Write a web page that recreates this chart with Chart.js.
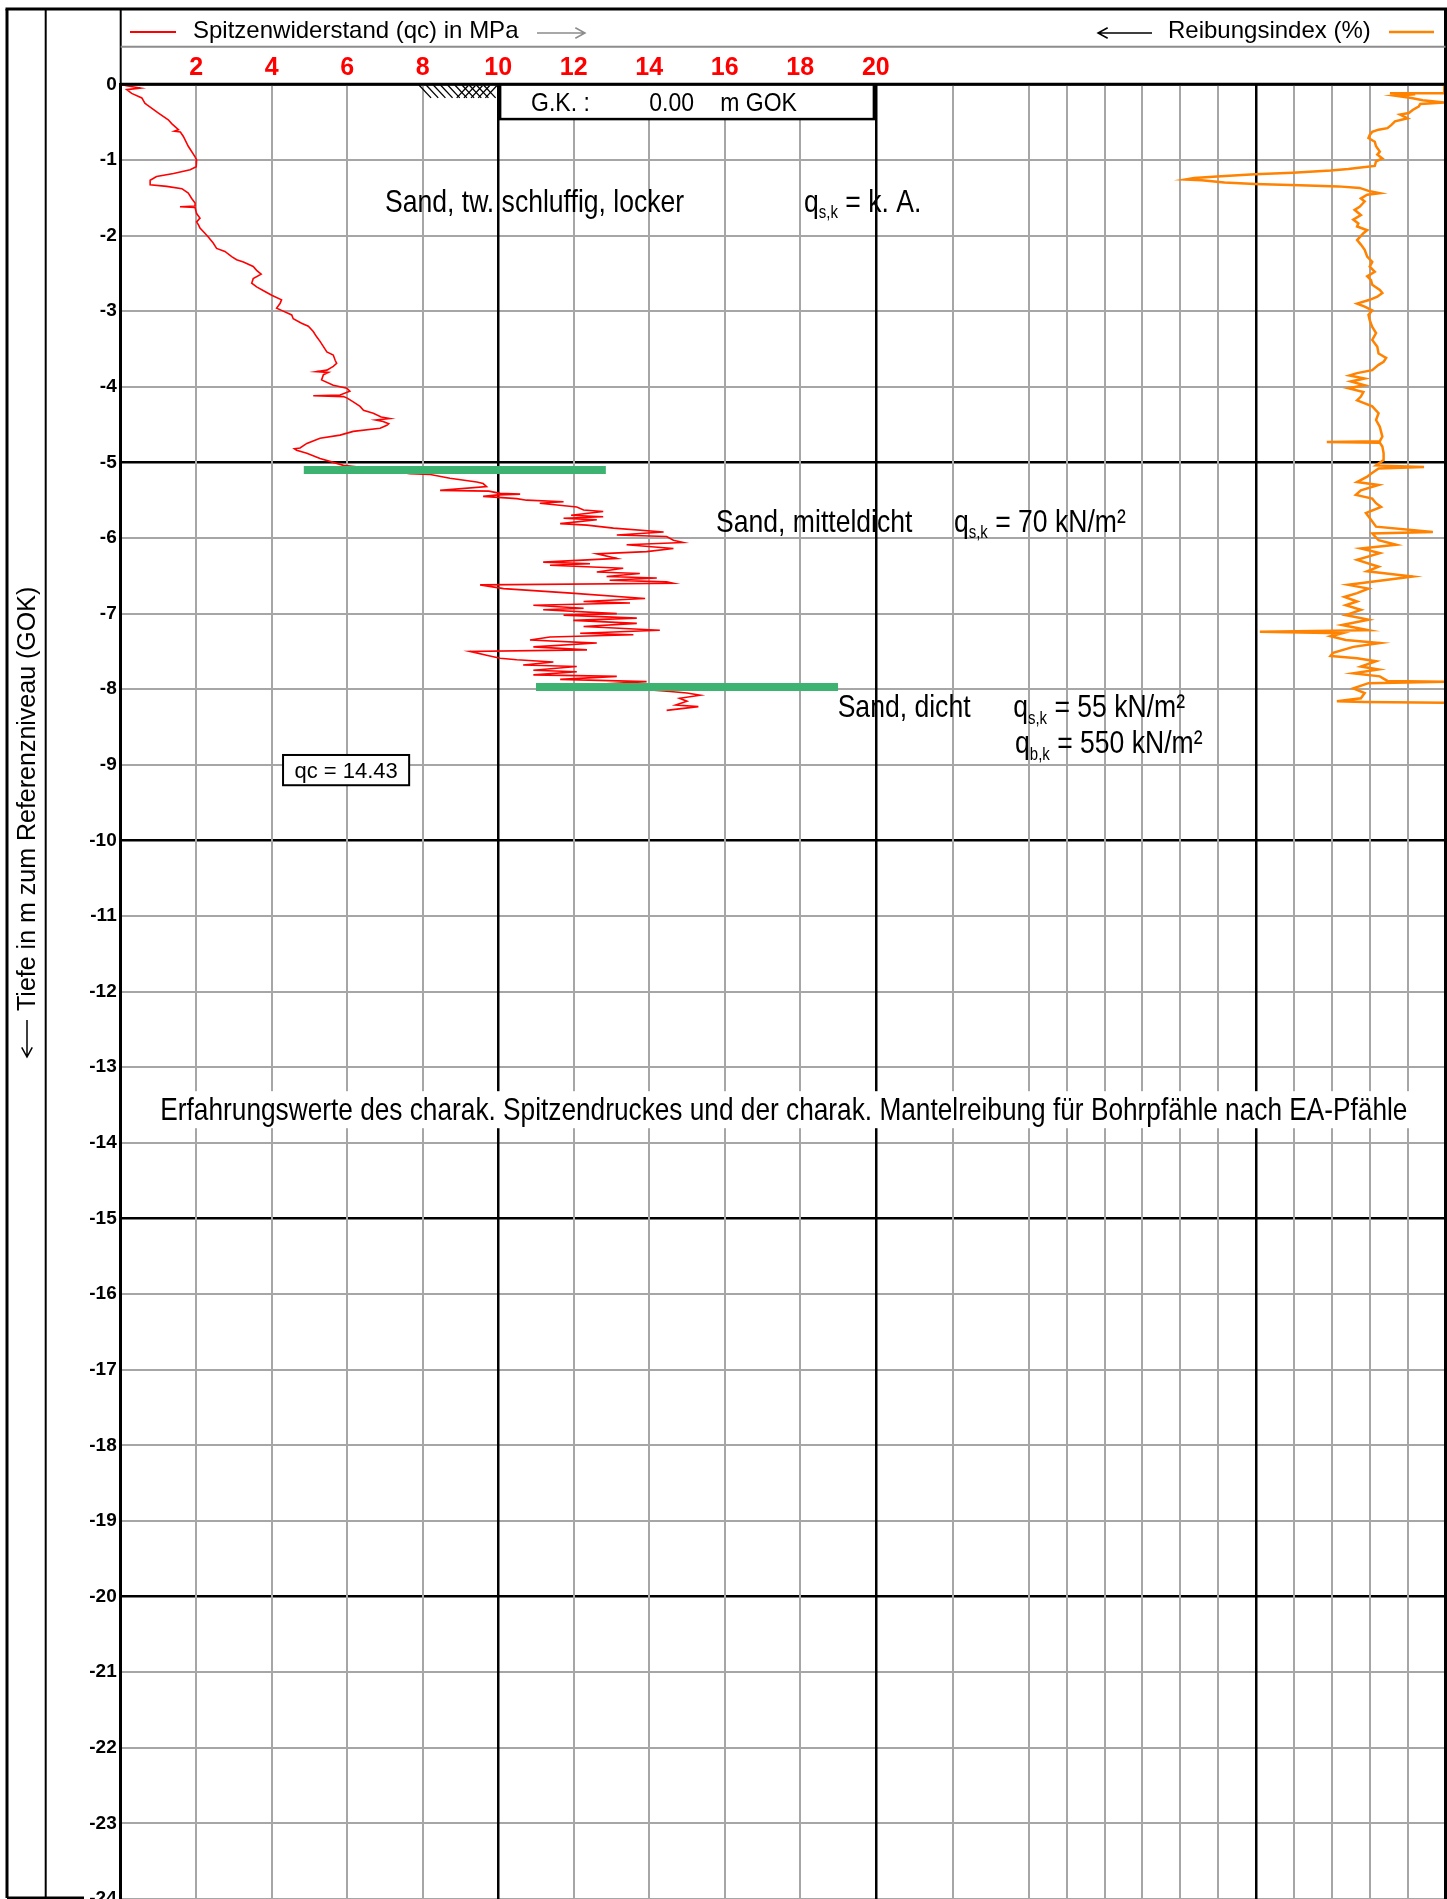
<!DOCTYPE html>
<html>
<head>
<meta charset="utf-8">
<title>Drucksondierung</title>
<script src="https://cdn.jsdelivr.net/npm/chart.js@4.4.1/dist/chart.umd.min.js"></script>
<style>
  html, body { margin: 0; padding: 0; background: #fff; }
  #wrap { width: 1447px; height: 1899px; position: relative; }
</style>
</head>
<body>
<div id="wrap"><canvas id="cpt"></canvas></div>
<script>
// --- data read off the sounding log ---
// cone resistance qc (MPa) against depth below GOK (m)
const qcDepth = [0.00,0.02,0.05,0.07,0.12,0.18,0.25,0.27,0.38,0.47,0.52,0.60,0.62,0.63,0.69,0.82,0.96,1.00,1.09,1.13,
  1.18,1.22,1.27,1.33,1.35,1.38,1.44,1.51,1.57,1.61,1.62,1.63,1.71,1.77,1.82,1.86,1.90,1.97,2.02,2.10,
  2.17,2.21,2.28,2.32,2.35,2.41,2.46,2.51,2.57,2.63,2.68,2.74,2.79,2.85,2.90,2.96,2.99,3.05,3.10,3.16,
  3.20,3.27,3.34,3.40,3.47,3.54,3.58,3.65,3.69,3.73,3.78,3.80,3.81,3.84,3.91,3.98,4.02,4.06,4.11,4.12,
  4.13,4.15,4.20,4.26,4.31,4.35,4.40,4.42,4.44,4.46,4.49,4.51,4.55,4.59,4.64,4.68,4.75,4.81,4.82,4.84,
  4.88,4.95,5.00,5.04,5.10,5.15,5.16,5.21,5.26,5.28,5.32,5.37,5.38,5.41,5.42,5.43,5.45,5.48,5.50,5.52,
  5.54,5.59,5.63,5.65,5.70,5.72,5.74,5.76,5.81,5.83,5.87,5.92,5.96,5.98,6.03,6.06,6.09,6.14,6.18,6.21,
  6.27,6.32,6.34,6.36,6.40,6.45,6.47,6.51,6.53,6.56,6.58,6.60,6.62,6.67,6.73,6.80,6.84,6.86,6.89,6.93,
  6.95,7.00,7.02,7.06,7.09,7.13,7.17,7.22,7.26,7.28,7.31,7.35,7.39,7.44,7.48,7.50,7.55,7.59,7.61,7.64,
  7.68,7.70,7.75,7.77,7.81,7.83,7.87,7.90,7.94,7.99,8.03,8.05,8.08,8.12,8.16,8.21,8.23,8.28];
const qcValue = [0.00,0.15,0.52,0.16,0.29,0.56,0.64,0.69,1.00,1.26,1.35,1.53,1.42,1.58,1.66,1.79,1.97,2.01,2.00,1.84,
  1.40,0.95,0.78,0.78,1.22,1.62,1.79,1.88,1.97,1.97,1.57,1.97,2.01,2.10,2.01,2.06,2.10,2.23,2.32,2.45,
  2.54,2.76,2.94,3.07,3.25,3.51,3.60,3.72,3.51,3.47,3.60,3.82,4.00,4.26,4.22,4.13,4.26,4.53,4.57,4.79,
  4.97,5.10,5.19,5.28,5.37,5.46,5.63,5.68,5.72,5.63,5.46,5.19,5.50,5.37,5.32,5.63,5.99,6.07,5.81,5.10,
  5.90,6.00,6.16,6.34,6.43,6.69,6.90,7.13,6.75,6.95,7.10,7.05,6.87,6.16,5.81,5.28,4.93,4.75,4.60,4.66,
  4.93,5.28,5.63,5.90,7.00,7.66,8.20,8.72,9.43,9.60,9.69,8.46,9.75,10.05,10.58,10.00,9.60,10.49,10.75,11.73,
  11.10,12.08,12.26,12.78,11.93,12.78,11.73,12.61,11.64,12.35,13.05,14.38,13.14,14.46,14.64,14.90,13.40,14.64,13.93,12.61,
  13.14,11.19,12.43,11.37,13.31,12.61,13.75,12.87,14.20,12.95,14.46,14.64,9.52,10.14,11.93,13.89,12.26,13.49,10.93,12.26,
  11.19,13.14,11.73,13.67,11.99,13.67,12.26,14.28,12.17,13.58,11.37,10.84,12.61,10.93,12.35,9.25,9.69,10.05,10.49,11.46,
  10.66,12.08,10.93,12.08,10.93,13.14,11.64,13.93,12.50,13.50,14.55,15.00,15.35,14.80,15.00,14.70,15.30,14.46];

// friction ratio (%) against depth (m)
const frDepth = [0.00,0.118,0.12,0.13,0.15,0.18,0.21,0.24,0.26,0.29,0.34,0.38,0.40,0.45,0.49,0.54,0.58,0.60,0.63,0.67,
  0.71,0.76,0.82,0.89,0.93,0.98,1.02,1.08,1.10,1.12,1.14,1.17,1.19,1.22,1.24,1.26,1.27,1.30,1.32,1.34,
  1.35,1.37,1.41,1.44,1.46,1.51,1.55,1.62,1.66,1.73,1.79,1.84,1.88,1.93,1.97,2.06,2.12,2.19,2.28,2.35,
  2.41,2.48,2.54,2.59,2.65,2.72,2.76,2.81,2.85,2.90,2.94,2.99,3.05,3.12,3.21,3.29,3.38,3.47,3.56,3.62,
  3.67,3.71,3.78,3.82,3.85,3.89,3.93,3.98,4.02,4.07,4.13,4.18,4.26,4.35,4.44,4.53,4.66,4.72,4.73,4.74,
  4.79,4.88,4.97,5.04,5.06,5.08,5.15,5.19,5.26,5.30,5.37,5.43,5.48,5.54,5.59,5.67,5.76,5.85,5.92,5.94,
  6.03,6.09,6.14,6.20,6.29,6.38,6.44,6.51,6.56,6.62,6.67,6.73,6.78,6.84,6.89,6.95,7.02,7.08,7.15,7.22,
  7.24,7.26,7.30,7.35,7.39,7.44,7.52,7.56,7.59,7.63,7.70,7.74,7.79,7.83,7.89,7.90,7.92,7.99,8.05,8.12,
  8.16,8.17,8.18];
const frValue = [0.01,0.01,0.44,0.24,0.40,0.27,0.18,0.01,0.20,0.21,0.26,0.29,0.36,0.30,0.40,0.43,0.46,0.53,0.58,0.60,
  0.61,0.56,0.55,0.52,0.54,0.50,0.55,0.56,0.67,0.77,0.91,1.21,1.51,1.81,1.99,2.06,1.93,1.75,1.51,1.09,
  0.85,0.68,0.61,0.52,0.62,0.67,0.64,0.68,0.72,0.67,0.73,0.69,0.70,0.62,0.65,0.70,0.67,0.64,0.62,0.58,
  0.60,0.56,0.62,0.59,0.58,0.52,0.50,0.54,0.60,0.70,0.64,0.58,0.61,0.60,0.58,0.55,0.58,0.54,0.53,0.47,
  0.49,0.53,0.58,0.70,0.76,0.64,0.75,0.64,0.77,0.65,0.67,0.70,0.58,0.53,0.55,0.52,0.50,0.52,0.94,0.52,
  0.50,0.49,0.49,0.55,0.17,0.53,0.59,0.62,0.70,0.53,0.67,0.71,0.58,0.55,0.51,0.63,0.59,0.55,0.10,0.58,
  0.53,0.39,0.67,0.52,0.70,0.53,0.62,0.26,0.49,0.77,0.61,0.70,0.80,0.70,0.79,0.67,0.79,0.61,0.82,0.61,
  1.47,0.82,0.91,0.79,0.52,0.73,0.89,0.91,0.70,0.55,0.67,0.53,0.73,0.52,0.46,0.00,0.61,0.73,0.64,0.67,
  0.86,0.64,0.00];

// layer boundaries (green marks): depth and qc extent
const layerDepth = [5.10, 7.97];
const layerQcFrom = [4.85, 11.0];
const layerQcTo = [12.85, 19.0];

// axis ticks
const depthTicks = [0,-1,-2,-3,-4,-5,-6,-7,-8,-9,-10,-11,-12,-13,-14,-15,-16,-17,-18,-19,-20,-21,-22,-23,-24];
const qcTicks = [2, 4, 6, 8, 10, 12, 14, 16, 18, 20];
const frGrid = [0.3, 0.6, 0.9, 1.2, 1.5, 1.8, 2.1, 2.4, 2.7, 3.0, 3.3, 3.9];
const frLabels = [0.6, 1.2, 1.8, 2.4, 3.0];

// --- styling ---
const FONT = '"Liberation Sans", Arial, Helvetica, sans-serif';
const RED = '#ff0000';
const ORANGE = '#ff8200';
const GREEN = '#3cb371';
const GRID = '#a6a6a6';
const NARROW = 0.83;

// text annotations anchored in data units (qc in MPa, depth in m)
const notes = [
  { text: 'Sand, tw. schluffig, locker', qc: 7.0, depth: 1.69 },
  { sub: 's,k', rest: ' = k. A.', qc: 18.1, depth: 1.69 },
  { text: 'Sand, mitteldicht', qc: 15.77, depth: 5.92 },
  { sub: 's,k', rest: ' = 70 kN/m\u00b2', qc: 22.07, depth: 5.92 },
  { text: 'Sand, dicht', qc: 18.99, depth: 8.37 },
  { sub: 's,k', rest: ' = 55 kN/m\u00b2', qc: 23.64, depth: 8.37 },
  { sub: 'b,k', rest: ' = 550 kN/m\u00b2', qc: 23.69, depth: 8.85 },
  { text: 'Erfahrungswerte des charak. Spitzendruckes und der charak. Mantelreibung f\u00fcr Bohrpf\u00e4hle nach EA-Pf\u00e4hle', qc: 1.05, depth: 13.70, box: true }
];

function drawText(ctx, text, x, y, size, opt) {
  opt = opt || {};
  const sx = opt.sx || 1;
  ctx.save();
  ctx.translate(x, y);
  ctx.scale(sx, 1);
  ctx.font = (opt.weight || 'normal') + ' ' + size + 'px ' + FONT;
  ctx.fillStyle = opt.color || '#000';
  ctx.textAlign = 'left';
  ctx.textBaseline = 'alphabetic';
  ctx.fillText(text, 0, 0);
  const w = ctx.measureText(text).width * sx;
  ctx.restore();
  return w;
}

function textWidth(ctx, text, size, sx) {
  ctx.save();
  ctx.font = 'normal ' + size + 'px ' + FONT;
  const w = ctx.measureText(text).width * sx;
  ctx.restore();
  return w;
}

function drawQ(ctx, sub, rest, x, y, size, sx) {
  let cx = x;
  cx += drawText(ctx, 'q', cx, y, size, { sx: sx });
  cx += drawText(ctx, sub, cx, y + size * 0.2, Math.round(size * 0.55), { sx: sx });
  drawText(ctx, rest, cx, y, size, { sx: sx });
}

function arrow(ctx, x1, y1, x2, y2, color) {
  const ang = Math.atan2(y2 - y1, x2 - x1);
  ctx.save();
  ctx.strokeStyle = color;
  ctx.lineWidth = 1.5;
  ctx.beginPath();
  ctx.moveTo(x1, y1);
  ctx.lineTo(x2, y2);
  ctx.moveTo(x2 - 11 * Math.cos(ang - 0.5), y2 - 11 * Math.sin(ang - 0.5));
  ctx.lineTo(x2, y2);
  ctx.lineTo(x2 - 11 * Math.cos(ang + 0.5), y2 - 11 * Math.sin(ang + 0.5));
  ctx.stroke();
  ctx.restore();
}

function seg(ctx, x1, y1, x2, y2) {
  ctx.beginPath();
  ctx.moveTo(x1, y1);
  ctx.lineTo(x2, y2);
  ctx.stroke();
}

// frame, header, boxes and texts of the log sheet
const sheet = {
  id: 'sheet',
  afterDatasetsDraw(chart) {
    const ctx = chart.ctx;
    const a = chart.chartArea;
    const xq = chart.scales.xq;
    const ys = chart.scales.y;
    const px = v => xq.getPixelForValue(v);
    const py = d => ys.getPixelForValue(-d);

    ctx.save();
    ctx.lineCap = 'butt';

    // soil descriptions and pile values
    const size = 32;
    const longSx = 0.82;
    notes.forEach(n => {
      const x = px(n.qc), y = py(n.depth);
      if (n.box) {
        const w = textWidth(ctx, n.text, size, longSx);
        ctx.fillStyle = '#fff';
        ctx.fillRect(x - 8, y - 29, w + 16, 37);
      }
      if (n.sub) drawQ(ctx, n.sub, n.rest, x, y, size, NARROW);
      else drawText(ctx, n.text, x, y, size, { sx: n.box ? longSx : NARROW });
    });

    // outer frame and header rows
    ctx.strokeStyle = '#000';
    ctx.lineWidth = 3;
    seg(ctx, 7, 9, 7, 1898);
    seg(ctx, 5.5, 9, a.right + 1.5, 9);
    seg(ctx, a.right, 9, a.right, a.bottom);
    seg(ctx, 7, 1898, 84, 1898);
    seg(ctx, a.left, a.top, a.right, a.top);
    ctx.lineWidth = 2;
    seg(ctx, 45.7, 9, 45.7, 1898);
    seg(ctx, a.left, 9, a.left, a.top);
    ctx.strokeStyle = '#8c8c8c';
    seg(ctx, a.left, 46.7, a.right, 46.7);

    // header legend
    ctx.strokeStyle = RED;
    ctx.lineWidth = 2;
    seg(ctx, 130, 32, 176, 32);
    drawText(ctx, 'Spitzenwiderstand (qc) in MPa', 193, 38, 24);
    arrow(ctx, 537, 33, 585, 33, '#8c8c8c');
    arrow(ctx, 1152, 33, 1098, 33, '#000');
    drawText(ctx, 'Reibungsindex (%)', 1168, 38, 24);
    ctx.strokeStyle = ORANGE;
    ctx.lineWidth = 2.5;
    seg(ctx, 1389, 32, 1434, 32);

    // depth axis title, rotated
    ctx.save();
    ctx.translate(27, 1011);
    ctx.rotate(-Math.PI / 2);
    drawText(ctx, 'Tiefe in m zum Referenzniveau (GOK)', 0, 8, 25);
    ctx.restore();
    arrow(ctx, 27, 1020, 27, 1057, '#000');

    // ground level box
    ctx.fillStyle = '#fff';
    ctx.strokeStyle = '#000';
    ctx.lineWidth = 2.5;
    const gx1 = px(10.05), gx2 = px(19.95), gy1 = py(0), gy2 = py(0.46);
    ctx.fillRect(gx1, gy1 + 1.5, gx2 - gx1, gy2 - gy1 - 1.5);
    ctx.strokeRect(gx1, gy1, gx2 - gx1, gy2 - gy1);
    drawText(ctx, 'G.K. :', px(10.87), 111, 25, { sx: 0.92 });
    drawText(ctx, '0.00', px(14.0), 111, 25, { sx: 0.92 });
    drawText(ctx, 'm GOK', px(15.88), 111, 25, { sx: 0.92 });

    // ground surface hatch
    ctx.strokeStyle = '#000';
    ctx.lineWidth = 1.3;
    for (let i = 0; i < 10; i++) {
      const q0 = 7.9 + i * 0.19;
      seg(ctx, px(q0), py(0.01), px(q0 + 0.32), py(0.18));
    }
    for (let i = 0; i < 5; i++) {
      const q0 = 8.9 + i * 0.19;
      seg(ctx, px(q0), py(0.18), px(q0 + 0.3), py(0.02));
    }

    // qc value box
    const bx1 = px(4.30), bx2 = px(7.64), by1 = py(8.87), by2 = py(9.27);
    ctx.fillStyle = '#fff';
    ctx.fillRect(bx1, by1, bx2 - bx1, by2 - by1);
    ctx.strokeStyle = '#000';
    ctx.lineWidth = 2;
    ctx.strokeRect(bx1, by1, bx2 - bx1, by2 - by1);
    const lbl = 'qc = 14.43';
    const lw = textWidth(ctx, lbl, 22, 1);
    drawText(ctx, lbl, (bx1 + bx2) / 2 - lw / 2, by2 - 7, 22);

    ctx.restore();
  }
};

const qcPoints = qcDepth.map((d, i) => ({ x: qcValue[i], y: -d }));
const frPoints = frDepth.map((d, i) => ({ x: frValue[i], y: -d }));
const layerSets = layerDepth.map((d, i) => ({
  label: 'Schichtgrenze ' + (i + 1),
  data: [{ x: layerQcFrom[i], y: -d }, { x: layerQcTo[i], y: -d }],
  xAxisID: 'xq',
  yAxisID: 'y',
  borderColor: GREEN,
  borderWidth: 8,
  borderCapStyle: 'butt',
  pointRadius: 0,
  order: 0
}));

const gridColor = dark => c => (c.tick && dark(c.tick.value)) ? '#000' : GRID;
const gridWidth = dark => c => (c.tick && dark(c.tick.value)) ? 2.5 : 2;

new Chart(document.getElementById('cpt'), {
  type: 'line',
  data: {
    datasets: layerSets.concat([
      {
        label: 'Spitzenwiderstand (qc)',
        data: qcPoints,
        xAxisID: 'xq',
        yAxisID: 'y',
        borderColor: RED,
        borderWidth: 1.6,
        pointRadius: 0,
        tension: 0,
        order: 1
      },
      {
        label: 'Reibungsindex',
        data: frPoints,
        xAxisID: 'xf',
        yAxisID: 'y',
        borderColor: ORANGE,
        borderWidth: 2.5,
        pointRadius: 0,
        tension: 0,
        order: 2
      }
    ])
  },
  options: {
    responsive: true,
    maintainAspectRatio: false,
    devicePixelRatio: 1,
    animation: false,
    events: [],
    layout: { padding: { left: 0, top: 0, right: 1.5, bottom: 0 } },
    plugins: {
      legend: { display: false },
      tooltip: { enabled: false }
    },
    scales: {
      y: {
        type: 'linear',
        position: 'left',
        min: -24,
        max: 0,
        afterBuildTicks: s => { s.ticks = depthTicks.map(v => ({ value: v })); },
        afterFit: s => { s.width = 120.7; s.paddingTop = 0; s.paddingBottom = 0; },
        ticks: {
          autoSkip: false,
          padding: 4,
          color: '#000',
          font: { family: FONT, size: 19, weight: 'bold' },
          callback: v => String(v)
        },
        grid: {
          drawTicks: false,
          color: gridColor(v => v % 5 === 0),
          lineWidth: gridWidth(v => v % 5 === 0)
        },
        border: { display: true, color: '#000', width: 3 }
      },
      xq: {
        type: 'linear',
        position: 'top',
        weight: 1,
        min: 0,
        max: 35.09,
        afterBuildTicks: s => { s.ticks = qcTicks.map(v => ({ value: v })); },
        afterFit: s => { s.height = 84.3; s.paddingLeft = 0; s.paddingRight = 0; },
        ticks: {
          autoSkip: false,
          maxRotation: 0,
          padding: 1,
          color: RED,
          font: { family: FONT, size: 25, weight: 'bold' },
          callback: v => String(v)
        },
        grid: {
          drawTicks: false,
          color: gridColor(v => v % 10 === 0),
          lineWidth: gridWidth(v => v % 10 === 0)
        },
        border: { display: false }
      },
      xf: {
        type: 'linear',
        position: 'top',
        weight: 0,
        reverse: true,
        min: 0,
        max: 10.49,
        afterBuildTicks: s => { s.ticks = frGrid.map(v => ({ value: v })); },
        afterFit: s => { s.height = 0; s.paddingLeft = 0; s.paddingRight = 0; },
        ticks: {
          autoSkip: false,
          maxRotation: 0,
          padding: 1,
          color: ORANGE,
          font: { family: FONT, size: 25, weight: 'bold' },
          callback: v => frLabels.includes(v) ? v.toFixed(1) : ''
        },
        grid: {
          drawTicks: false,
          color: gridColor(v => v === 1.5),
          lineWidth: gridWidth(v => v === 1.5)
        },
        border: { display: false }
      }
    }
  },
  plugins: [sheet]
});
</script>
</body>
</html>
